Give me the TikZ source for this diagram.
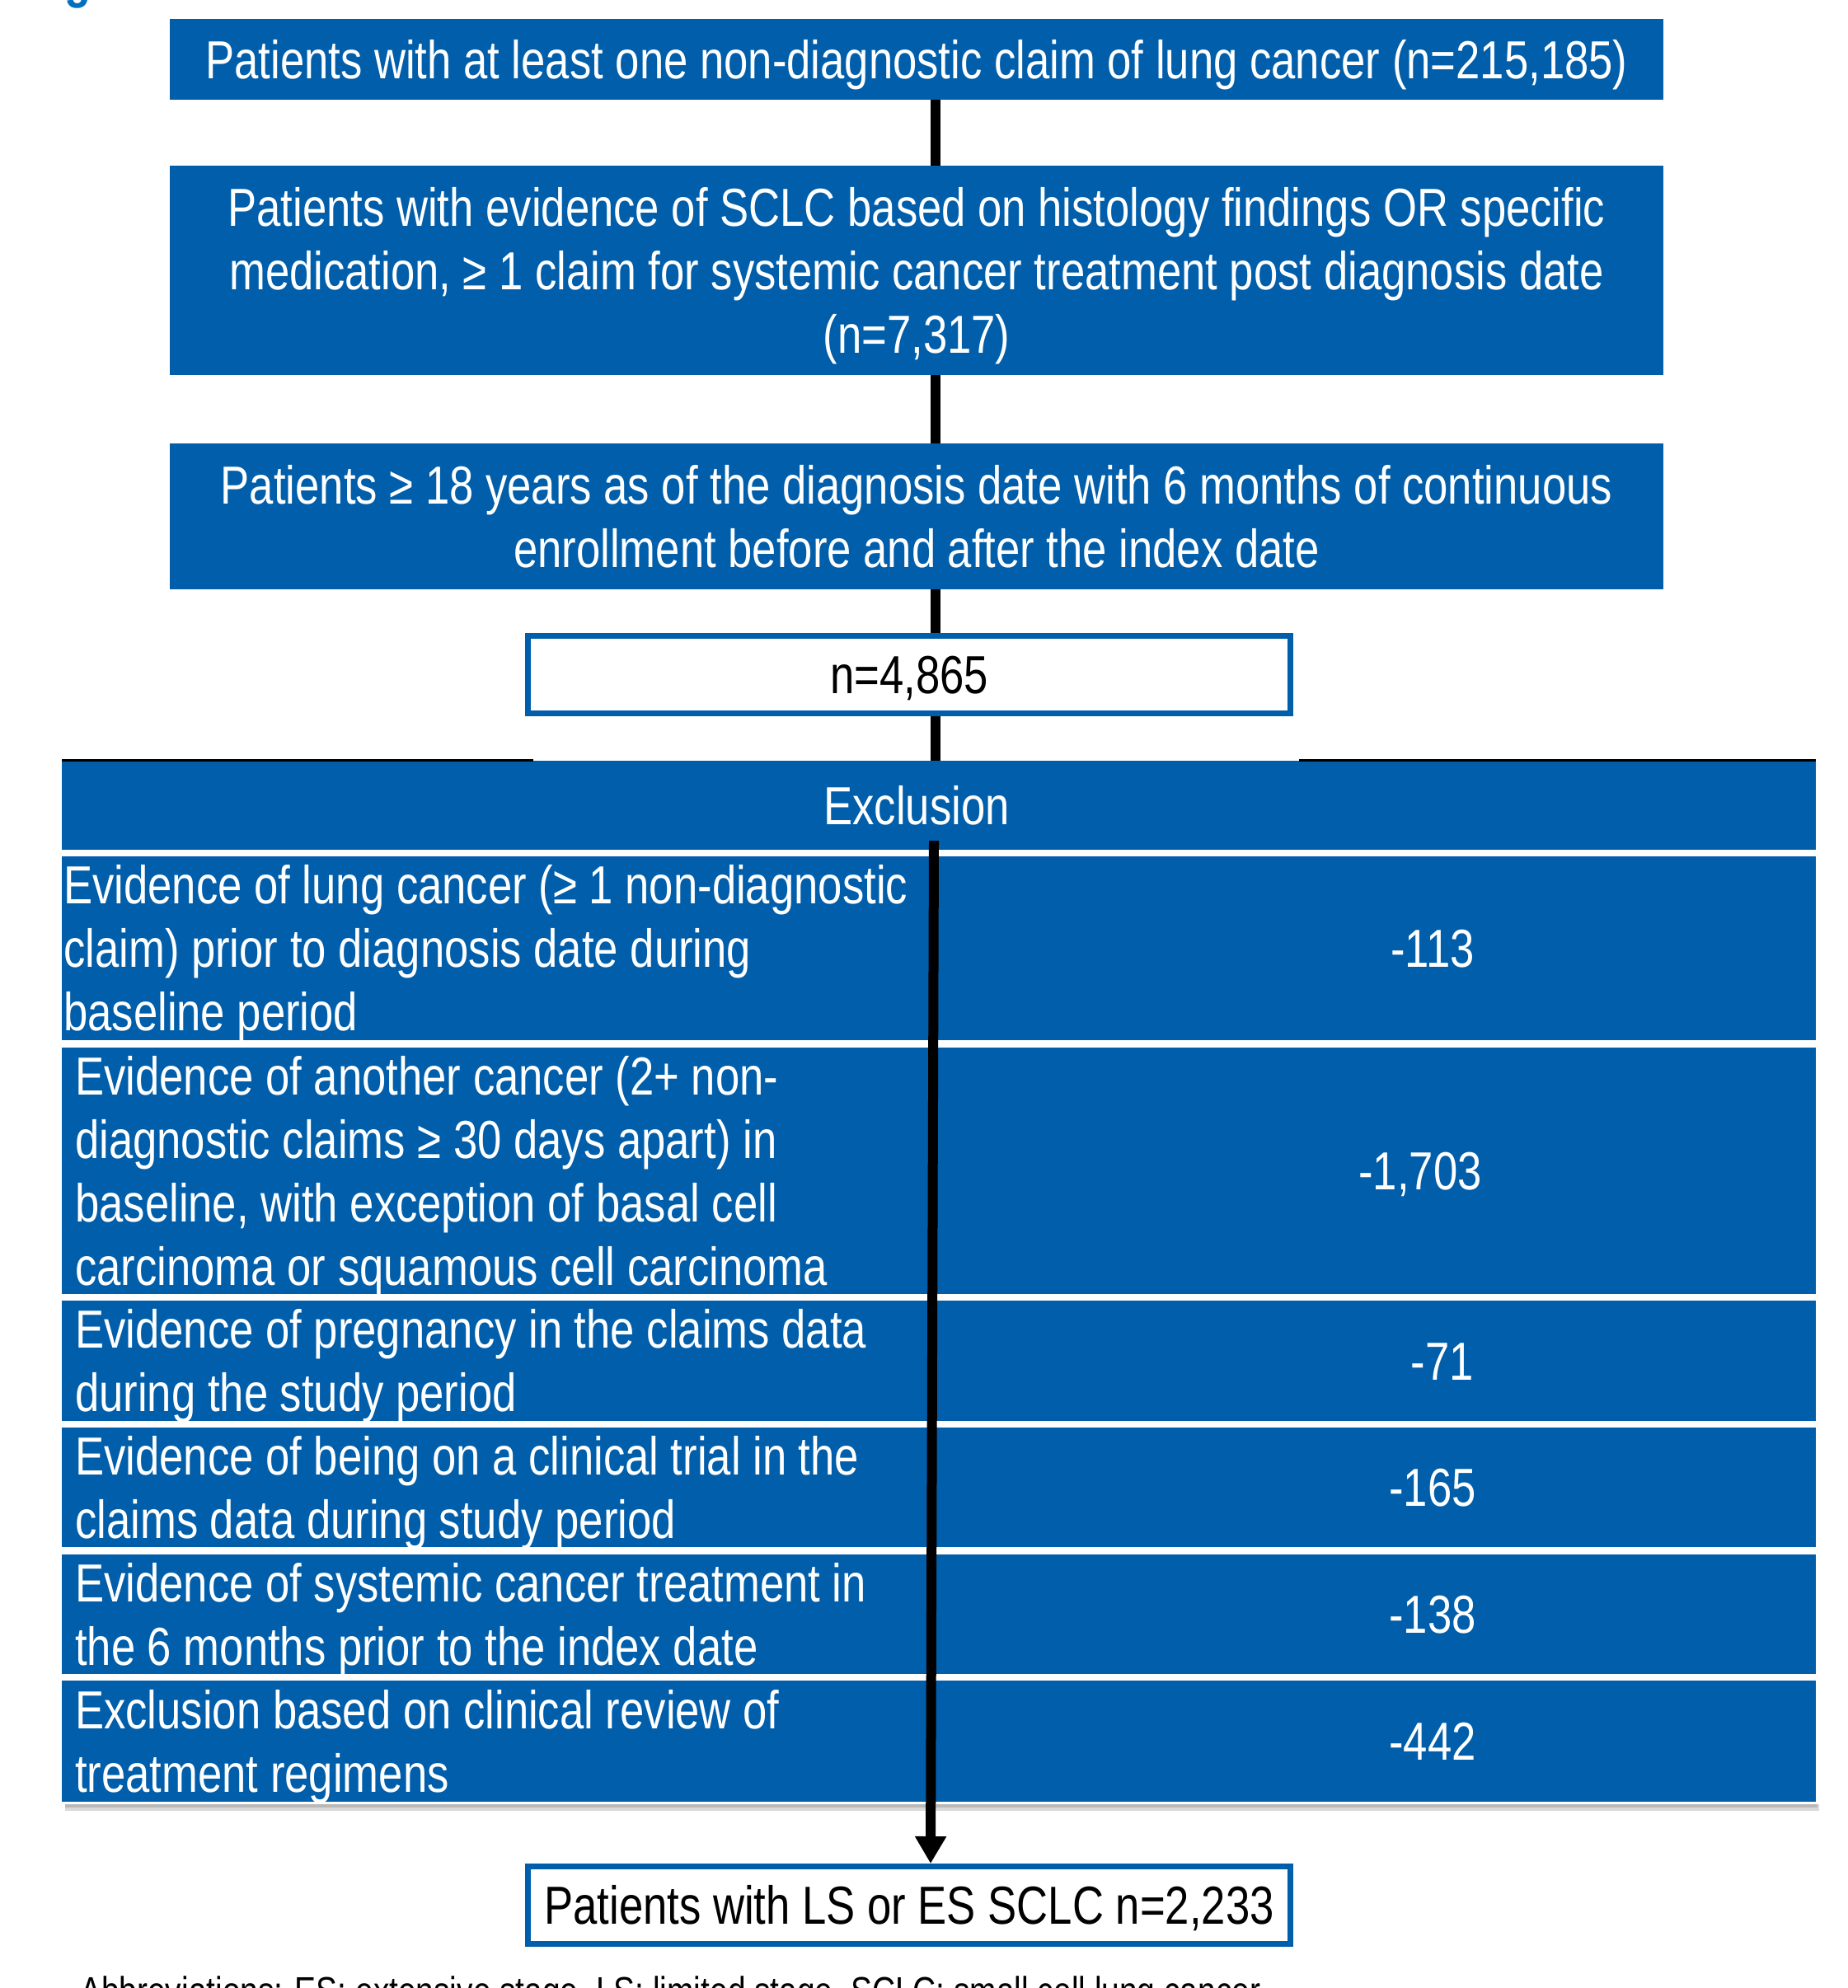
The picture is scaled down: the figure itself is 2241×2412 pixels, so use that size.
\documentclass[tikz,border=0pt]{standalone}
\usepackage{fontspec}
\setmainfont[FakeStretch=0.81]{Liberation Sans}
\usetikzlibrary{arrows.meta,backgrounds}
\definecolor{boxblue}{RGB}{0,94,170}
\definecolor{titleblue}{RGB}{0,112,192}
\newcommand\fs{\rule[-23.1pt]{0pt}{93.1pt}}
\begin{document}
\begin{tikzpicture}[x=1pt,y=-1pt,
  bigfont/.style={font=\fontsize{65}{77}\selectfont},
  bluebox/.style={bigfont,fill=boxblue,text=white,inner sep=0pt,outer sep=0pt,
    minimum width=1812pt,align=center},
  whitebox/.style={bigfont,fill=white,draw=boxblue,line width=7pt,text=black,
    inner sep=0pt,minimum width=925pt,minimum height=94pt},
  rowbox/.style={fill=boxblue,inner sep=0pt,outer sep=0pt,minimum width=2128pt},
  rowtext/.style={bigfont,text=white,inner sep=0pt,align=left,anchor=west},
  numtext/.style={bigfont,text=white,inner sep=0pt},
  flowline/.style={line width=12pt,black},
  flowarrow/.style={line width=12pt,black,-{Triangle[width=36pt,length=33pt]}}
]
\useasboundingbox (0,0) rectangle (2241,2412);
\clip (0,0) rectangle (2241,2412);

% title fragment (cut off at the top)
\node[font=\fontsize{65}{77}\selectfont\bfseries,text=titleblue,inner sep=0pt,anchor=base west] (title) at (31,-4) {Figure 1};

% flow boxes
\node[bluebox,minimum height=98pt] (b1) at (1112,72)
  {\fs Patients with at least one non-diagnostic claim of lung cancer (n=215,185)};
\node[bluebox,minimum height=254pt] (b2) at (1112,328)
  {\fs Patients with evidence of SCLC based on histology findings OR specific\\
   \strut medication, ≥ 1 claim for systemic cancer treatment post diagnosis date\\
   \strut (n=7,317)};
\node[bluebox,minimum height=177pt] (b3) at (1112,626.5)
  {\fs Patients ≥ 18 years as of the diagnosis date with 6 months of continuous\\
   \strut enrollment before and after the index date};
\node[whitebox] (nb) at (1103,818) {\fs n=4,865};

% exclusion table
\node[rowbox,minimum height=108pt] (hdr) at (1139,977) {};
\draw[black,line width=3pt] (75,922) -- (647,922);
\draw[black,line width=3pt] (1576,922) -- (2203,922);
\node[numtext] (hdrt) at (1112,977) {\fs Exclusion};

\node[rowbox,minimum height=223pt] (r1) at (1139,1150.5) {};
\node[rowbox,minimum height=299pt] (r2) at (1139,1420.5) {};
\node[rowbox,minimum height=146pt] (r3) at (1139,1651) {};
\node[rowbox,minimum height=145pt] (r4) at (1139,1804.5) {};
\node[rowbox,minimum height=145pt] (r5) at (1139,1958.5) {};
\node[rowbox,minimum height=147pt] (r6) at (1139,2112.5) {};

% table shadow
\fill[gray!30] (79,2189) rectangle (2207,2197);
\fill[gray!55] (79,2189) rectangle (2205,2193);
\fill[white] (75,2186) rectangle (2203,2189);

\node[rowtext] (t1) at (77,1150.5)
  {\fs Evidence of lung cancer (≥ 1 non-diagnostic\\
   \strut claim) prior to diagnosis date during\\
   \strut baseline period};
\node[rowtext] (t2) at (91,1420.5)
  {\fs Evidence of another cancer (2+ non-\\
   \strut diagnostic claims ≥ 30 days apart) in\\
   \strut baseline, with exception of basal cell\\
   \strut carcinoma or squamous cell carcinoma};
\node[rowtext] (t3) at (91,1651)
  {\fs Evidence of pregnancy in the claims data\\
   \strut during the study period};
\node[rowtext] (t4) at (91,1804.5)
  {\fs Evidence of being on a clinical trial in the\\
   \strut claims data during study period};
\node[rowtext] (t5) at (91,1958.5)
  {\fs Evidence of systemic cancer treatment in\\
   \strut the 6 months prior to the index date};
\node[rowtext] (t6) at (91,2112.5)
  {\fs Exclusion based on clinical review of\\
   \strut treatment regimens};

\node[numtext] (n1) at (1738,1150.5) {\fs -113};
\node[numtext] (n2) at (1723,1420.5) {\fs -1,703};
\node[numtext] (n3) at (1750,1651) {\fs -71};
\node[numtext] (n4) at (1738,1804.5) {\fs -165};
\node[numtext] (n5) at (1738,1958.5) {\fs -138};
\node[numtext] (n6) at (1738,2112.5) {\fs -442};

% final box
\node[whitebox] (fin) at (1103,2311.5) {\fs Patients with LS or ES SCLC n=2,233};

% caption (cut off at the bottom)
\node[font=\fontsize{48}{58}\selectfont,text=black,inner sep=0pt,anchor=base west] (cap) at (97,2432)
  {Abbreviations: ES: extensive stage, LS: limited stage, SCLC: small cell lung cancer};

% connectors
\coordinate (ax1) at (1135,0);
\coordinate (ax2) at (1129,0);
\coordinate (astart) at (1133,1020);
\begin{pgfonlayer}{background}
  \draw[flowline] (b1.south -| ax1) -- (hdr.north -| ax1);
\end{pgfonlayer}
\draw[flowarrow] (astart) -- (fin.north -| ax2);
\end{tikzpicture}
\end{document}
